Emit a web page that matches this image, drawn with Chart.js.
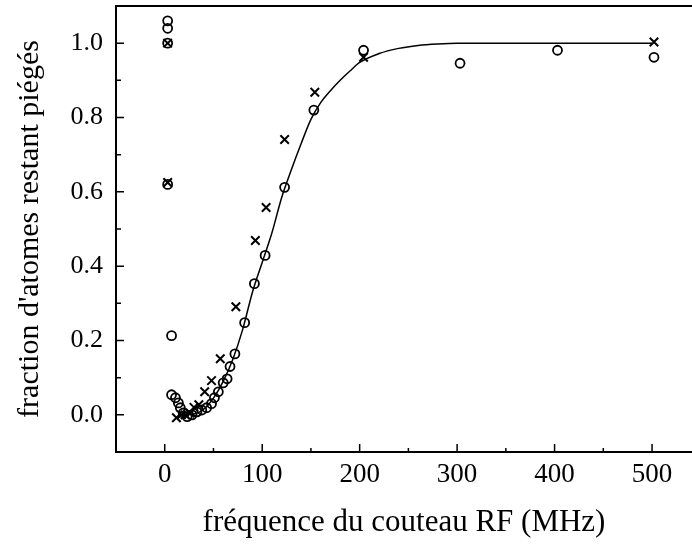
<!DOCTYPE html>
<html>
<head>
<meta charset="utf-8">
<script src="https://cdn.jsdelivr.net/npm/chart.js@4/dist/chart.umd.min.js"></script>
<style>
  body { margin: 0; background: #fff; }
  canvas { display: block; }
</style>
</head>
<body>
<canvas id="chart-rf" width="692" height="544"></canvas>
<script>
// donnees
const cercleFreq = [3, 3, 3, 3, 7, 7, 11, 14, 16, 19, 23, 28, 33, 38, 43, 48, 51, 55, 60, 64, 67, 72, 82, 92, 103, 123, 153, 204, 303, 403, 502];
const cercleFrac = [1.06, 1.04, 1.0, 0.62, 0.213, 0.054, 0.046, 0.032, 0.019, 0.005, -0.005, 0.0, 0.008, 0.013, 0.019, 0.03, 0.046, 0.062, 0.086, 0.097, 0.13, 0.164, 0.248, 0.353, 0.429, 0.612, 0.82, 0.981, 0.946, 0.981, 0.962];

const croixFreq = [3, 3, 12, 17, 21, 26, 30, 35, 41, 48, 57, 73, 93, 104, 123, 154, 204, 502];
const croixFrac = [1.0, 0.625, -0.008, 0.0, 0.0, 0.005, 0.02, 0.027, 0.062, 0.092, 0.151, 0.291, 0.469, 0.558, 0.741, 0.868, 0.962, 1.003];

// courbe ajustee
const fitFreq = [20, 30, 40, 50, 60, 70, 80, 90, 100, 110, 120, 130, 140, 150, 160, 170, 180, 190, 200, 220, 240, 260, 280, 300, 350, 400, 450, 500];
const fitFrac = [0.0, 0.002, 0.015, 0.045, 0.09, 0.15, 0.23, 0.33, 0.41, 0.49, 0.585, 0.66, 0.73, 0.795, 0.84, 0.872, 0.9, 0.925, 0.948, 0.972, 0.986, 0.994, 0.998, 1.0, 1.0, 1.0, 1.0, 1.0];

const xTicks = [0, 100, 200, 300, 400, 500];
const yTicks = [0.0, 0.2, 0.4, 0.6, 0.8, 1.0];

const pts = (xs, ys) => xs.map((x, i) => ({x: x, y: ys[i]}));

const serif = "'Liberation Serif', 'Times New Roman', serif";

// pas de marge auto autour des axes
const sansMarge = s => { s.paddingLeft = 0; s.paddingRight = 0; s.paddingTop = 0; s.paddingBottom = 0; };

// petites graduations vers l'interieur + bord du haut
const graduations = {
  id: 'graduations',
  afterDraw(chart) {
    const ctx = chart.ctx;
    const a = chart.chartArea;
    const sx = chart.scales.x, sy = chart.scales.y;
    ctx.save();
    ctx.strokeStyle = '#000';
    ctx.lineWidth = 2;
    ctx.beginPath();
    ctx.moveTo(a.left, a.top);
    ctx.lineTo(a.right, a.top);
    ctx.stroke();
    ctx.lineWidth = 1.5;
    ctx.beginPath();
    for (let v = -50; v <= 541; v += 50) {
      const px = sx.getPixelForValue(v);
      const len = (v % 100 === 0) ? 8 : 4;
      ctx.moveTo(px, a.bottom);
      ctx.lineTo(px, a.bottom - len);
    }
    for (let k = -1; k <= 11; k++) {
      const py = sy.getPixelForValue(k / 10);
      const len = (k % 2 === 0) ? 8 : 5;
      ctx.moveTo(a.left, py);
      ctx.lineTo(a.left + len, py);
    }
    ctx.stroke();
    ctx.restore();
  }
};

const ctx = document.getElementById('chart-rf').getContext('2d');

new Chart(ctx, {
  type: 'scatter',
  data: {
    datasets: [
      {
        type: 'line',
        label: 'ajustement',
        data: pts(fitFreq, fitFrac),
        borderColor: '#000',
        borderWidth: 1.5,
        pointRadius: 0,
        cubicInterpolationMode: 'monotone',
        fill: false
      },
      {
        label: 'o',
        data: pts(cercleFreq, cercleFrac),
        pointStyle: 'circle',
        pointRadius: 4.5,
        borderColor: '#000',
        borderWidth: 1.8,
        backgroundColor: 'rgba(255,255,255,0)'
      },
      {
        label: 'x',
        data: pts(croixFreq, croixFrac),
        pointStyle: 'crossRot',
        pointRadius: 6,
        borderColor: '#000',
        borderWidth: 2
      }
    ]
  },
  options: {
    responsive: false,
    animation: false,
    layout: { autoPadding: false, padding: { top: 6, right: 0, left: 0, bottom: 0 } },
    plugins: { legend: { display: false }, tooltip: { enabled: false } },
    scales: {
      x: {
        type: 'linear',
        min: -50,
        max: 541,
        afterBuildTicks: s => { s.ticks = xTicks.map(v => ({value: v})); },
        afterFit: s => { s.height = 92; sansMarge(s); },
        grid: { display: false, drawTicks: false },
        border: { display: true, color: '#000', width: 2 },
        ticks: { color: '#000', font: { family: serif, size: 27 }, padding: 7, maxRotation: 0 },
        title: {
          display: true,
          text: 'fréquence du couteau RF (MHz)',
          color: '#000',
          font: { family: serif, size: 31 },
          padding: { top: 0, bottom: 3 }
        }
      },
      y: {
        type: 'linear',
        min: -0.1,
        max: 1.1,
        afterBuildTicks: s => { s.ticks = yTicks.map(v => ({value: v})); },
        afterFit: s => { s.width = 116; sansMarge(s); },
        grid: { display: false, drawTicks: false },
        border: { display: true, color: '#000', width: 2 },
        ticks: { color: '#000', font: { family: serif, size: 26 }, padding: 13, callback: v => v.toFixed(1) },
        title: {
          display: true,
          text: "fraction d'atomes restant piégés",
          color: '#000',
          font: { family: serif, size: 30 },
          padding: { top: 12, bottom: 0 }
        }
      }
    }
  },
  plugins: [graduations]
});
</script>
</body>
</html>
